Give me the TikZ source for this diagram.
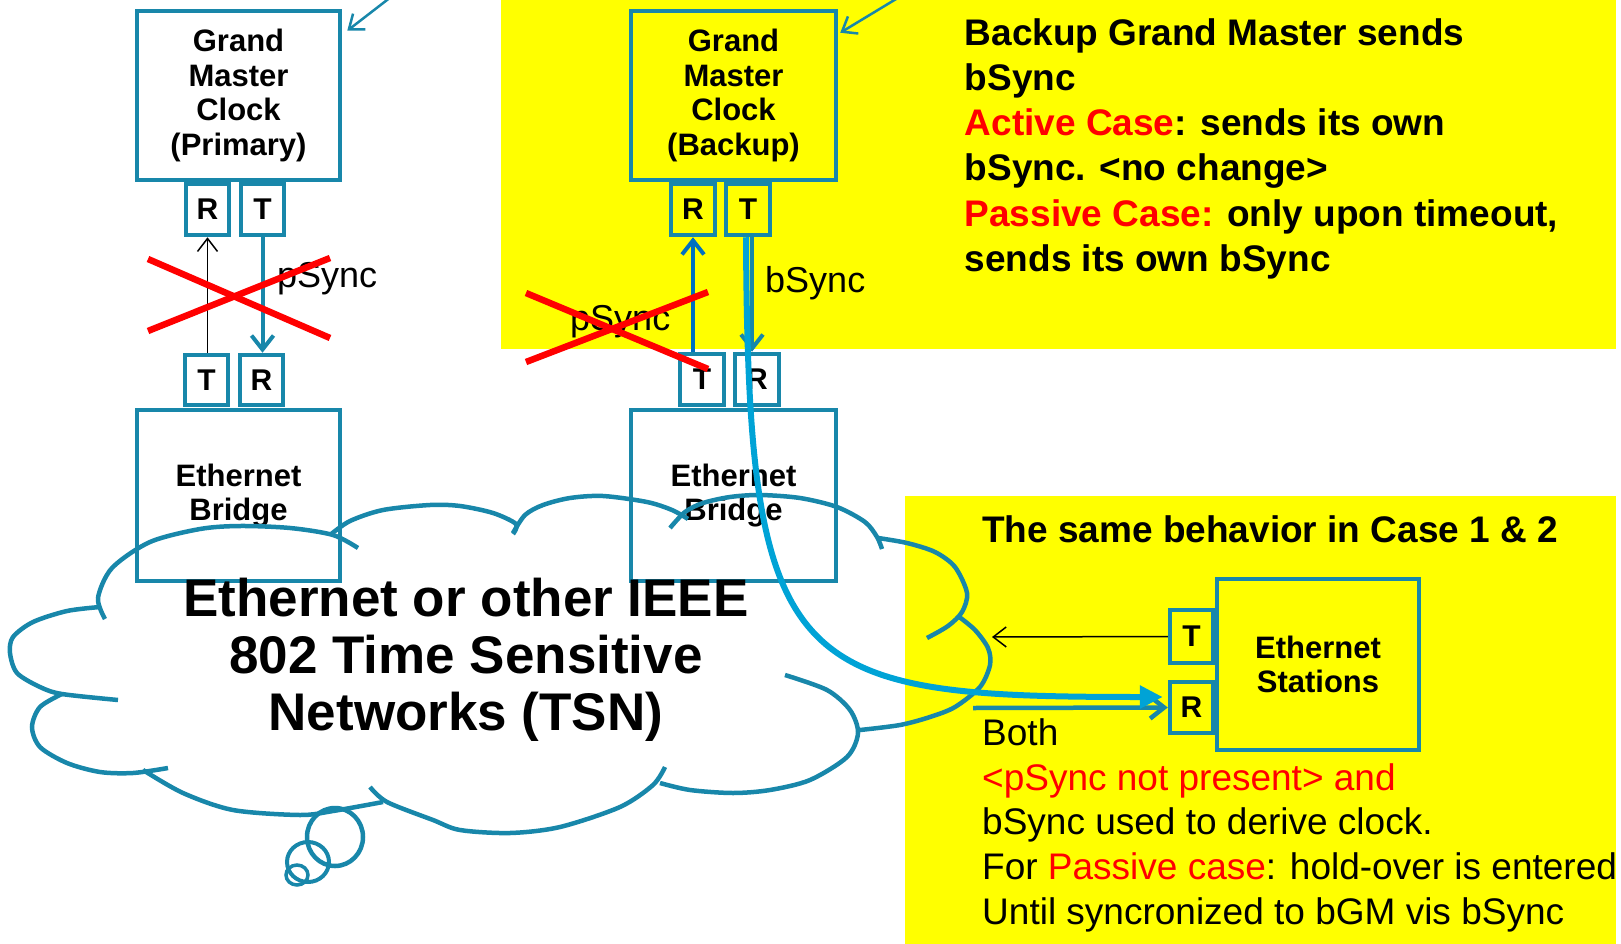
\documentclass[tikz,border=0pt]{standalone}
\usepackage{fontspec}
\setmainfont{Liberation Sans}
\usetikzlibrary{arrows.meta}
\definecolor{linkteal}{RGB}{24,135,170}
\definecolor{syncblue}{RGB}{0,163,214}
\definecolor{upblue}{RGB}{0,112,192}
\definecolor{hiyellow}{RGB}{255,255,0}
\definecolor{alertred}{RGB}{255,0,0}
\begin{document}
\begin{tikzpicture}[x=1pt,y=-1pt,
  unitbox/.style={draw=linkteal, line width=4.5pt, inner sep=0pt, align=center,
    font=\fontsize{31}{34.7}\selectfont\bfseries},
  portbox/.style={draw=linkteal, line width=4.5pt, inner sep=0pt,
    minimum width=43pt, minimum height=51pt, font=\fontsize{30}{34}\selectfont\bfseries},
  cloudline/.style={draw=linkteal, line width=4.5pt},
  crossout/.style={draw=alertred, line width=6.5pt},
  flowlbl/.style={anchor=base west, inner sep=0pt, font=\fontsize{36}{40}\selectfont},
  noteline/.style={anchor=base west, inner sep=0pt, font=\fontsize{37}{45}\selectfont},
  noteboldline/.style={anchor=base west, inner sep=0pt, font=\fontsize{37}{45}\selectfont\bfseries},
  cloudtext/.style={anchor=base, inner sep=0pt, font=\fontsize{53}{57}\selectfont\bfseries},
  barb/.style={-{Straight Barb[length=14pt,width=22pt]}},
  thinbarb/.style={-{Straight Barb[length=13pt,width=20pt]}},
]
\useasboundingbox (0,0) rectangle (1621,944);
\clip (0,0) rectangle (1621,944);

% highlighted areas
\fill[hiyellow] (501,0) rectangle (1616,349);
\fill[hiyellow] (905,496) rectangle (1616,944);

% primary grand master and its bridge
\node[unitbox, minimum width=203pt, minimum height=169pt] (gmp) at (238.5,95.5) {Grand\\Master\\Clock\\(Primary)};
\node[portbox] (Rpt) at (207.5,209.5) {R};
\node[portbox] (Tpt) at (262.5,209.5) {T};
\node[portbox, minimum height=50pt] (Tpb) at (206.5,380) {T};
\node[portbox, minimum height=50pt] (Rpb) at (261.5,380) {R};
\node[unitbox, minimum width=203pt, minimum height=171pt] (brp) at (238.5,495.5) {Ethernet\\Bridge};

% backup grand master and its bridge
\node[unitbox, minimum width=205pt, minimum height=169pt] (gmb) at (733.5,95.5) {Grand\\Master\\Clock\\(Backup)};
\node[portbox, minimum width=44pt] (Rbt) at (693,209.5) {R};
\node[portbox, minimum width=44pt] (Tbt) at (748,209.5) {T};
\node[portbox, minimum width=44pt] (Tbb) at (702,379.5) {T};
\node[portbox, minimum width=44pt] (Rbb) at (757,379.5) {R};
\node[unitbox, minimum width=205pt, minimum height=171pt] (brb) at (733.5,495.5) {Ethernet\\Bridge};

% end station
\node[unitbox, minimum width=202pt, minimum height=171pt] (sta) at (1318,664.5) {Ethernet\\Stations};
\node[portbox, minimum height=53pt] (Tst) at (1191.5,636.5) {T};
\node[portbox] (Rst) at (1191.5,707.5) {R};

% pointers entering from above
\coordinate (ptrA) at (400,-10);
\coordinate (ptrB) at (911,-10);
\draw[linkteal, line width=2.5pt, -{Straight Barb[length=13pt,width=20pt]}] (ptrA) -- ([xshift=5pt,yshift=-22pt]gmp.north east);
\draw[linkteal, line width=2.5pt, -{Straight Barb[length=13pt,width=20pt]}] (ptrB) -- ([xshift=2pt,yshift=-24pt]gmb.north east);

% primary links
\draw[black, line width=1.5pt, thinbarb] (Tpb.north -| Rpt.south) -- (Rpt.south);
\draw[linkteal, line width=4pt, barb] (Tpt.south) -- (Rpb.north -| Tpt.south);
\node[flowlbl] (lblp) at (277,287) {pSync};

% backup links
\draw[upblue, line width=4pt, barb] (Tbb.north -| Rbt.south) -- (Rbt.south);
\draw[linkteal, line width=4pt, barb] ([xshift=4pt]Tbt.south) -- ([xshift=-5pt]Rbb.north);
\node[flowlbl] (lblb) at (765,292) {bSync};
\node[flowlbl] (lblq) at (570,330) {pSync};

% crossed-out links
\draw[crossout] (148,259) -- (330,338);
\draw[crossout] (148,331) -- (330,258);
\draw[crossout] (526,293) -- (708,369);
\draw[crossout] (526,362) -- (708,292);

% network cloud
\draw[cloudline] plot[smooth] coordinates {(105,619) (98,598) (112,568) (150,542) (200,529) (240,526) (290,528) (333,535) (358,548)};
\draw[cloudline] plot[smooth] coordinates {(330,535) (350,521) (383,510) (430,505) (460,506) (493,513) (516,524) (513,534)};
\draw[cloudline] plot[smooth] coordinates {(513,533) (525,515) (543,505) (570,498) (603,496) (647,502) (672,510) (688,519)};
\draw[cloudline] plot[smooth] coordinates {(670,528) (685,512) (703,503) (730,497) (760,495) (800,498) (837,507) (865,522) (877,537) (882,549)};
\draw[cloudline] plot[smooth] coordinates {(878,538) (907,543) (935,552) (955,567) (967,593) (962,612) (948,626) (927,638)};
\draw[cloudline] plot[smooth] coordinates {(958,616) (975,630) (988,648) (990,665) (980,687) (955,707) (930,717) (900,725) (860,730)};
\draw[cloudline] plot[smooth] coordinates {(785,675) (827,690) (850,710) (858,733) (847,757) (810,780) (770,790) (733,793) (690,790) (660,783)};
\draw[cloudline] plot[smooth] coordinates {(665,767) (653,785) (620,807) (560,827) (510,833) (460,830) (433,820) (387,802) (370,787)};
\draw[cloudline] plot[smooth] coordinates {(383,802) (333,811) (300,815) (233,810) (183,793) (143,770)};
\draw[cloudline] plot[smooth] coordinates {(62,694) (40,707) (32,727) (40,747) (67,763) (100,772) (133,773) (168,768)};
\draw[cloudline] plot[smooth] coordinates {(100,607) (67,611) (33,622) (13,637) (10,653) (17,673) (40,687) (62,694) (118,700)};
\draw[cloudline] (335,837) ellipse [x radius=28, y radius=29];
\draw[linkteal, line width=4pt] (308,862) ellipse [x radius=21, y radius=20];
\draw[linkteal, line width=3.5pt] (297,875) ellipse [x radius=11, y radius=10];
\node[cloudtext] (net1) at (466,616) {Ethernet or other IEEE};
\node[cloudtext] (net2) at (466,673) {802 Time Sensitive};
\node[cloudtext] (net3) at (466,730) {Networks (TSN)};

% station links
\coordinate (stOut) at (992,637);
\coordinate (bothIn) at (973,708);
\draw[black, line width=1.5pt, thinbarb] (Tst.west) -- (stOut);
\draw[linkteal, line width=4.5pt, barb] (bothIn) -- (Rst.west);
\draw[syncblue, line width=6pt, -{Triangle[length=23pt,width=22pt]}]
  ([xshift=-2pt]Tbt.south) .. controls (748,676) and (790,697) .. ([xshift=-5pt,yshift=10.5pt]Rst.west);

% notes, upper right
\node[noteboldline] (n1) at (964.5,46) {Backup Grand Master sends};
\node[noteboldline] (n2) at (964.5,91) {bSync};
\node[noteboldline] (n3) at (964.5,136) {\textcolor{alertred}{Active Case}: sends its own};
\node[noteboldline] (n4) at (964.5,181) {bSync. <no change>};
\node[noteboldline] (n5) at (964.5,226) {\textcolor{alertred}{Passive Case:} only upon timeout,};
\node[noteboldline] (n6) at (964.5,271) {sends its own bSync};

% notes, lower right
\node[noteboldline] (m1) at (982,542) {The same behavior in Case 1 \& 2};
\node[noteline] (m2) at (982,745) {Both};
\node[noteline, text=alertred] (m3) at (982,790) {<pSync not present> and};
\node[noteline] (m4) at (982,834) {bSync used to derive clock.};
\node[noteline] (m5) at (982,879) {For \textcolor{alertred}{Passive case}: hold-over is entered};
\node[noteline] (m6) at (982,924) {Until syncronized to bGM vis bSync};
\end{tikzpicture}
\end{document}
